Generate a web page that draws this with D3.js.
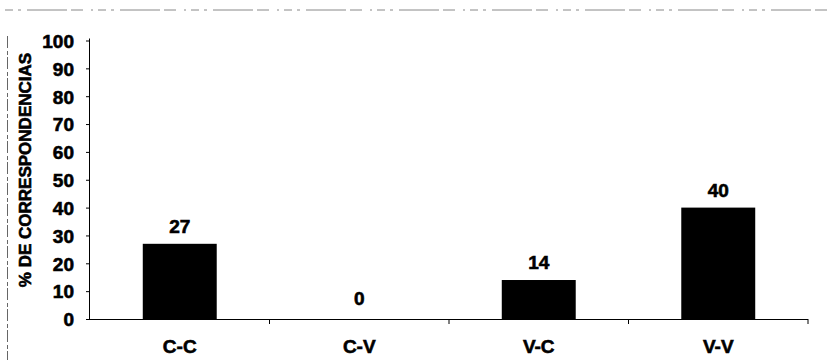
<!DOCTYPE html>
<html><head><meta charset="utf-8">
<script src="https://cdn.jsdelivr.net/npm/d3@7"></script>
<style>
html,body{margin:0;padding:0;background:#fff;}
text{font-family:"Liberation Sans",Arial,sans-serif;font-weight:bold;fill:#000;stroke:#000;stroke-width:0.6px;}
</style></head>
<body><svg id="c" width="828" height="360"></svg>
<script>
const categories = ["C-C","C-V","V-C","V-V"];
const values = [27, 0, 14, 40];
const yTicks = [0,10,20,30,40,50,60,70,80,90,100];
const yTitle = "% DE CORRESPONDENCIAS";

const svg = d3.select("#c");
const mLeft = 90, mRight = 808, mTop = 40.5, mBottom = 319;

// scan frame lines
svg.append("line").attr("x1",5).attr("x2",828).attr("y1",10).attr("y2",10)
  .attr("stroke","#888").attr("stroke-width",1).attr("stroke-dasharray","8 5 3 6 40 4 12 8 2 5");
svg.append("line").attr("x1",7.5).attr("x2",7.5).attr("y1",36).attr("y2",360)
  .attr("stroke","#666").attr("stroke-width",1).attr("stroke-dasharray","12 3 4 2");

const x = d3.scaleBand().domain(categories).range([mLeft,mRight]).paddingInner(0.588).paddingOuter(0.294);
const y = d3.scaleLinear().domain([0,100]).range([mBottom,mTop]);

// y axis
const yAxis = d3.axisLeft(y).tickValues(yTicks).tickSize(4).tickPadding(12).tickFormat(d3.format("d"));
const gy = svg.append("g").attr("transform",`translate(${mLeft},0)`).call(yAxis);
gy.select(".domain").attr("stroke","#000").attr("d",`M-0.5,${mTop-2}V${mBottom}`);
gy.selectAll("text").style("font-size","19px").attr("dy","0.36em");

// x axis line
const step = x.step();
svg.append("line").attr("x1",mLeft).attr("x2",mRight).attr("y1",mBottom+0.5).attr("y2",mBottom+0.5).attr("stroke","#000");
// category boundary ticks
svg.selectAll("line.xt").data(d3.range(1,categories.length+1)).join("line")
  .attr("class","xt")
  .attr("x1",d=>mLeft+step*d).attr("x2",d=>mLeft+step*d)
  .attr("y1",mBottom).attr("y2",mBottom+5).attr("stroke","#000");

// bars
svg.selectAll("rect.bar").data(values).join("rect").attr("class","bar")
  .attr("x",(d,i)=>x(categories[i])).attr("width",x.bandwidth())
  .attr("y",d=>y(d)).attr("height",d=>mBottom-y(d)+0.5).attr("fill","#000");

// value labels
svg.selectAll("text.val").data(values).join("text").attr("class","val")
  .attr("x",(d,i)=>x(categories[i])+x.bandwidth()/2)
  .attr("y",d=> d===0 ? y(d)-14 : y(d)-11)
  .attr("text-anchor","middle").style("font-size","19px").text(d=>d);

// category labels
svg.selectAll("text.cat").data(categories).join("text").attr("class","cat")
  .attr("x",d=>x(d)+x.bandwidth()/2).attr("y",353)
  .attr("text-anchor","middle").style("font-size","19px").text(d=>d);

// y title
svg.append("text").attr("transform","translate(31,170) rotate(-90)")
  .attr("text-anchor","middle").style("font-size","17px").text(yTitle);
</script></body></html>
